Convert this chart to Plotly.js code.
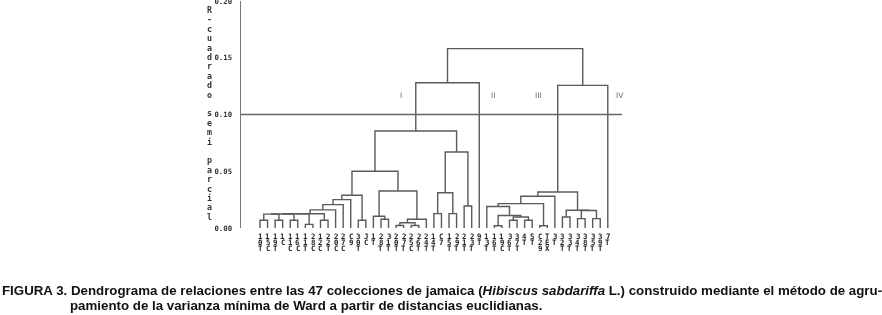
<!DOCTYPE html>
<html><head><meta charset="utf-8">
<script src="https://cdn.plot.ly/plotly-3.0.1.min.js"></script>
<style>html,body{margin:0;padding:0;background:#fff;} #chart{width:882px;height:315px;filter:grayscale(100%);}</style>
</head><body><div id="chart"></div>
<script>
// Leaf labels in display order (read vertically in the figure)
const leafLabels = ["10T","15C","19T","1C","11C","16C","11T","28C","12C","22T","20C","27C","C9","30T","JC",
  "1T","28T","31T","20T","27T","25C","26T","24T","14T","C7","15T","29T","21T","23T","9T",
  "13T","16T","19C","36T","37T","4T","5T","C29","TEX","3T","32T","33T","34T","38T","35T","39T","7T"];

// Agglomeration steps (R hclust convention: negative = leaf number, positive = earlier step)
const mergeA = [-1,-3,-5,1,4,-7,5,-9,7,9,10,11,-14,12,-17,-16,-19,-21,17,19,16,14,-24,-26,23,-28,25,22,28,
  -32,-34,-36,31,30,-31,-38,35,37,-41,-43,-45,40,39,38,44,29];
const mergeB = [-2,-4,-6,2,3,-8,6,-10,8,-11,-12,-13,-15,13,-18,15,-20,-22,18,-23,20,21,-25,-27,24,-29,26,27,-30,
  -33,-35,-37,32,33,34,-39,36,-40,-42,-44,-46,41,42,43,-47,45];
const mergeH = [0.0068,0.0068,0.0068,0.0122,0.0124,0.0032,0.0126,0.0068,0.0127,0.016,0.0206,0.025,0.0068,0.0288,
  0.0077,0.0103,0.0022,0.0022,0.0046,0.0077,0.0326,0.050,0.0127,0.0127,0.031,0.0194,0.067,0.0855,0.128,
  0.002,0.0068,0.0068,0.0097,0.011,0.019,0.002,0.0215,0.028,0.0097,0.0083,0.0083,0.0154,0.0156,0.0317,0.1257,0.158];

const yTickVals = [0, 0.05, 0.10, 0.15, 0.20];
const cutHeight = 0.10;
const clusterNames = ["I","II","III","IV"];
const yTitle = "R-cuadrado semi parcial";
const caption1 = "FIGURA 3. Dendrograma de relaciones entre las 47 colecciones de jamaica (<i>Hibiscus sabdariffa</i> L.) construido mediante el método de agru-";
const caption2 = "pamiento de la varianza mínima de Ward a partir de distancias euclidianas.";

// ---- build the dendrogram segments from the merge table ----
const pos = [], hgt = [];
const cx = c => c < 0 ? (-c - 1) : pos[c - 1];
const ch = c => c < 0 ? 0 : hgt[c - 1];
const xs = [], ys = [];
for (let i = 0; i < mergeA.length; i++) {
  const a = mergeA[i], b = mergeB[i], h = mergeH[i];
  const xa = cx(a), xb = cx(b);
  xs.push(xa, xa, xb, xb, null);
  ys.push(ch(a), h, h, ch(b), null);
  pos.push((xa + xb) / 2); hgt.push(h);
}

const ML = 241, PW = 399, PH = 226.7;
const px2paper = p => (p - ML) / PW;
const labFont = {family: 'DejaVu Sans Mono', size: 7.4, color: '#222', weight: 'bold'};

const annotations = [];
// leaf labels, one character per row
leafLabels.forEach((lab, i) => {
  lab.split('').forEach((c, r) => {
    annotations.push({x: i, xref: 'x', y: 0, yref: 'paper', yshift: -(8 + 6.3 * r), yanchor: 'middle',
      xanchor: 'center', text: c, showarrow: false, font: labFont});
  });
});
// vertical stacked axis title, one character per row
const titleChars = yTitle.split('');
const titleTop = 10, titleBottom = 216.5;
titleChars.forEach((c, r) => {
  if (c === ' ') return;
  const ypx = titleTop + r * (titleBottom - titleTop) / (titleChars.length - 1);
  annotations.push({x: px2paper(209), xref: 'paper', y: 1 - (ypx - 1) / PH, yref: 'paper',
    yanchor: 'middle', xanchor: 'center', showarrow: false, text: c,
    font: {family: 'DejaVu Sans Mono', size: 8.3, color: '#333', weight: 'bold'}});
});
// cluster names
const clusterPx = [401, 493, 538, 620];
clusterNames.forEach((n, i) => annotations.push({x: px2paper(clusterPx[i]), xref: 'paper', y: 0.585, yref: 'paper',
  text: n, showarrow: false, xanchor: 'center', yanchor: 'middle', font: {family: 'DejaVu Sans', size: 7.5, color: '#666'}}));
// caption
const capFont = {family: 'Liberation Sans Narrow, Liberation Sans, Arial', size: 13.3, color: '#111', weight: 'bold'};
annotations.push({x: px2paper(0), xref: 'paper', y: 0, yref: 'paper', yshift: -62, xanchor: 'left', yanchor: 'middle',
  text: caption1, showarrow: false, font: capFont});
annotations.push({x: px2paper(68), xref: 'paper', y: 0, yref: 'paper', yshift: -77, xanchor: 'left', yanchor: 'middle',
  text: caption2, showarrow: false, font: capFont});

const data = [{type: 'scatter', mode: 'lines', x: xs, y: ys, line: {color: '#5a5a5a', width: 1.4}, hoverinfo: 'skip', cliponaxis: false}];

const layout = {
  width: 882, height: 315, margin: {l: ML, r: 882 - ML - PW, t: 1, b: 87.3},
  paper_bgcolor: '#fff', plot_bgcolor: '#fff', showlegend: false,
  xaxis: {range: [-2.513, 50.26], showgrid: false, zeroline: false, showline: false, showticklabels: false, ticks: ''},
  yaxis: {range: [0, 0.2], tickvals: yTickVals, ticktext: yTickVals.map(v => v.toFixed(2)), showgrid: false,
    zeroline: false, showline: true, linecolor: '#777', linewidth: 1.5, ticks: 'outside', ticklen: 6,
    ticklabeloverflow: 'allow', tickcolor: 'rgba(0,0,0,0)',
    tickfont: {family: 'DejaVu Sans Mono', size: 7.3, color: '#333', weight: 'bold'}},
  shapes: [{type: 'line', xref: 'paper', x0: 0, x1: px2paper(622), yref: 'y', y0: cutHeight, y1: cutHeight,
    line: {color: '#666', width: 1.3}}],
  annotations: annotations
};
Plotly.newPlot('chart', data, layout, {displayModeBar: false, staticPlot: true});
</script></body></html>
